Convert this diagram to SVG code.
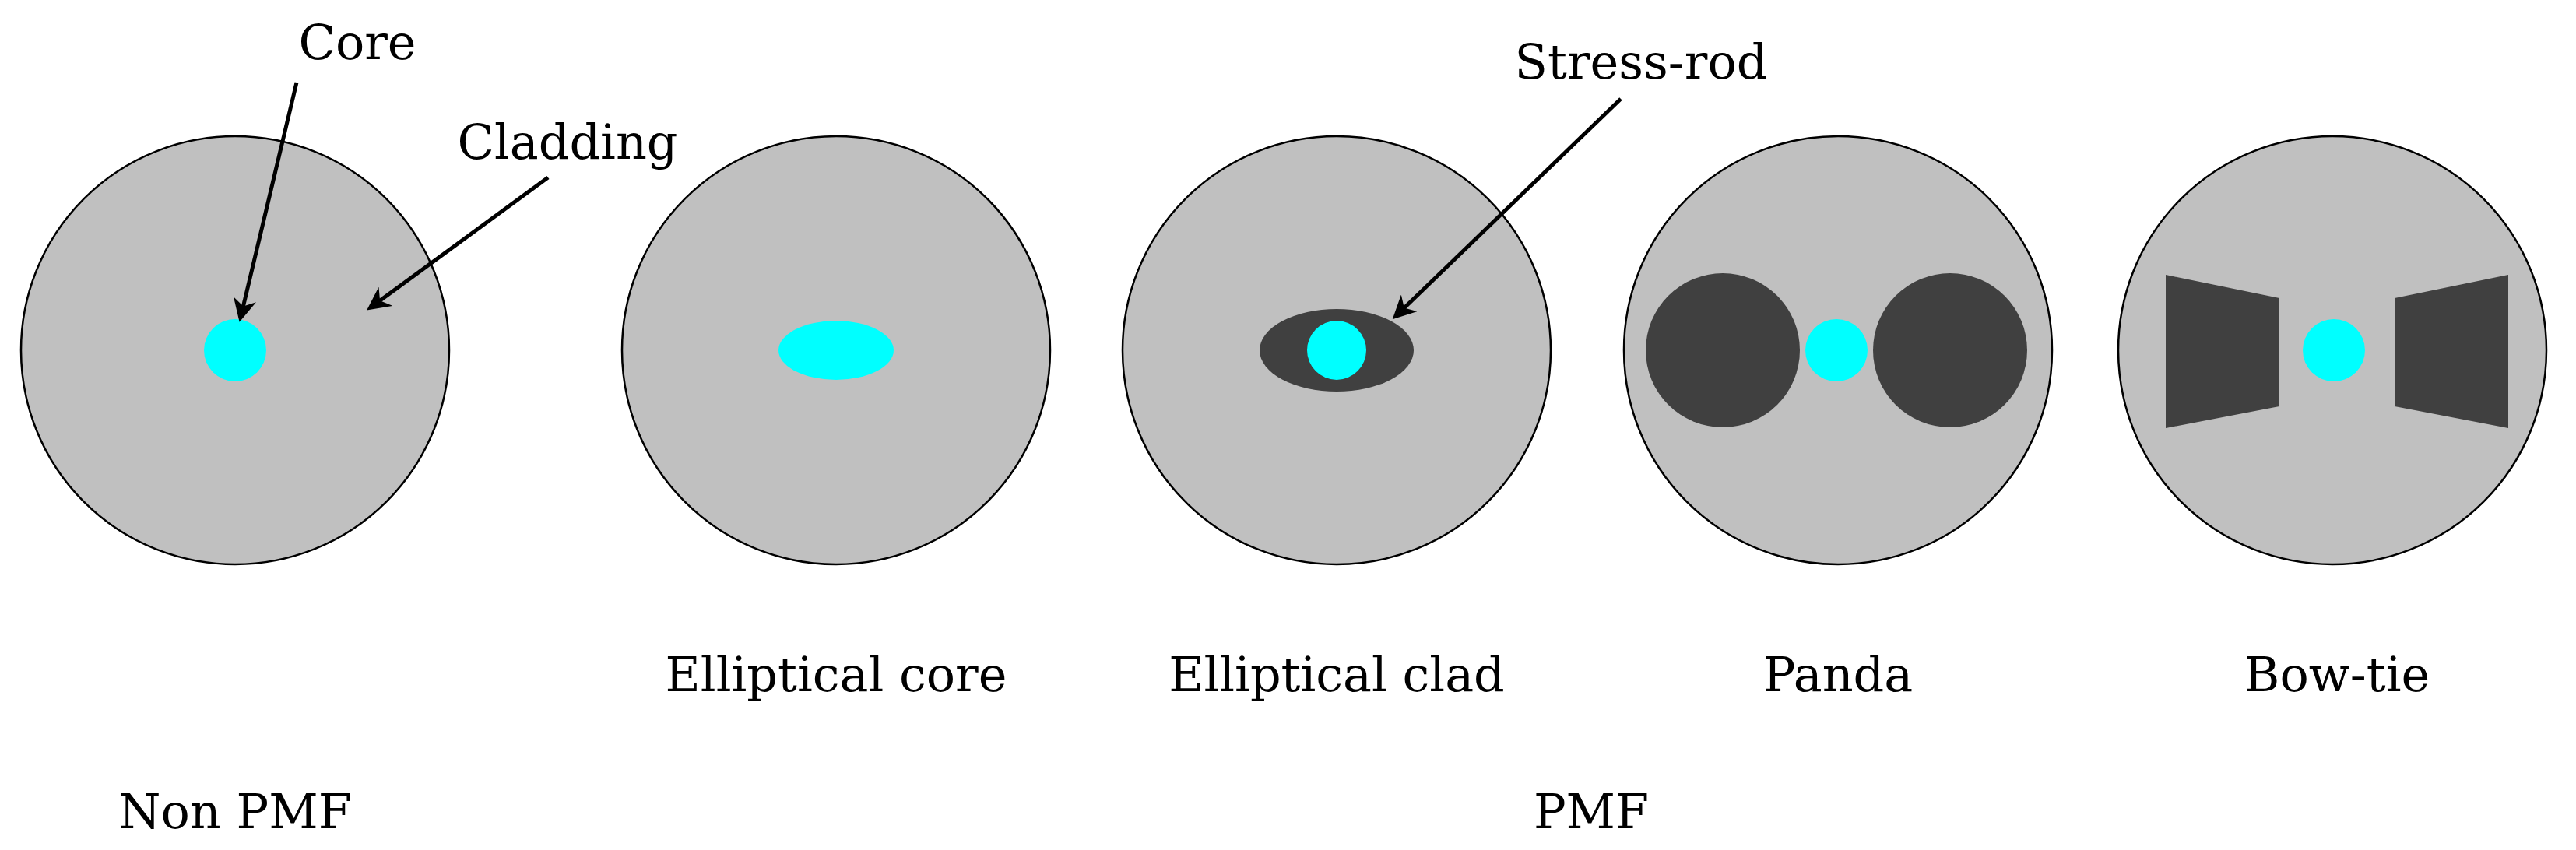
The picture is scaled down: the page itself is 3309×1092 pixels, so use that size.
<svg xmlns="http://www.w3.org/2000/svg" width="3309" height="1092" viewBox="0 0 3309 1092">
<style>
.clad{fill:#c0c0c0;stroke:#000;stroke-width:2.5}
.rod{fill:#404040}
.core{fill:#00ffff}
text{font-family:"DejaVu Serif","Liberation Serif",serif;font-size:62px;fill:#000;text-anchor:middle}
.arr{stroke:#000;stroke-width:5;fill:none;marker-end:url(#ah)}
</style>
<defs>
<marker id="ah" viewBox="0 0 10 10" refX="8" refY="5" markerWidth="6" markerHeight="6" orient="auto" markerUnits="strokeWidth">
<path d="M0,0 L10,5 L0,10 L3,5 z" fill="#000"/>
</marker>
</defs>
<rect width="3309" height="1092" fill="#fff"/>
<g id="nonpmf">
<circle class="clad" cx="302" cy="450" r="275"/>
<circle class="core" cx="302" cy="450" r="40"/>
</g>
<g id="ellcore">
<circle class="clad" cx="1074" cy="450" r="275"/>
<ellipse class="core" cx="1074" cy="450" rx="74" ry="38"/>
</g>
<g id="ellclad">
<circle class="clad" cx="1717" cy="450" r="275"/>
<ellipse class="rod" cx="1717" cy="450" rx="99" ry="53"/>
<circle class="core" cx="1717" cy="450" r="38"/>
</g>
<g id="panda">
<circle class="clad" cx="2361" cy="450" r="275"/>
<circle class="rod" cx="2213" cy="450" r="99"/>
<circle class="rod" cx="2505" cy="450" r="99"/>
<circle class="core" cx="2359" cy="450" r="40"/>
</g>
<g id="bowtie">
<circle class="clad" cx="2996" cy="450" r="275"/>
<polygon class="rod" points="2782,353 2928,383 2928,522 2782,550"/>
<polygon class="rod" points="3076,383 3222,353 3222,550 3076,522"/>
<circle class="core" cx="2998" cy="450" r="40"/>
</g>
<g id="connectors">
<line class="arr" x1="381" y1="106" x2="309" y2="408"/>
<line class="arr" x1="704" y1="228" x2="476" y2="395"/>
<line class="arr" x1="2082" y1="127" x2="1793" y2="406"/>
</g>
<g id="labels">
<text x="459" y="76">Core</text>
<text x="729" y="204">Cladding</text>
<text x="2108" y="101">Stress-rod</text>
<text x="1074" y="888">Elliptical core</text>
<text x="1717" y="888">Elliptical clad</text>
<text x="2361" y="888">Panda</text>
<text x="3002" y="888">Bow-tie</text>
<text x="302" y="1064">Non PMF</text>
<text x="2044" y="1064">PMF</text>
</g>
</svg>
